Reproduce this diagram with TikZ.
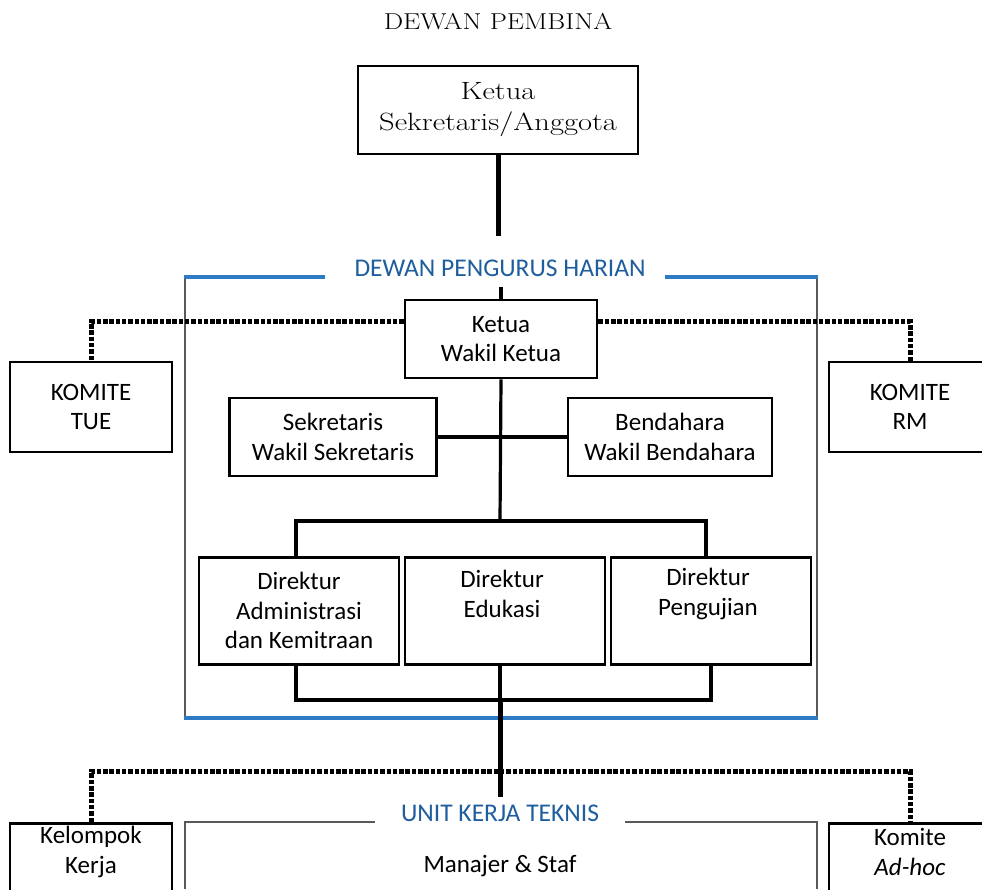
\documentclass[tikz,border=0pt]{standalone}
\usepackage{fontspec}
\newfontfamily\calib{Carlito}
\definecolor{lblblue}{HTML}{1F5E9E}
\definecolor{lineblue}{HTML}{2E7BC4}
\begin{document}
\begin{tikzpicture}[x=1pt,y=-1pt,
  box/.style={draw=black,line width=2.8pt,align=center,inner sep=0pt,font=\calib\fontsize{25}{29.5}\selectfont},
  txt/.style={align=center,inner sep=0pt,font=\calib\fontsize{25}{29.5}\selectfont},
  serifbox/.style={draw=black,line width=2.8pt,align=center,inner sep=0pt,font=\fontsize{25}{31}\selectfont},
  conn/.style={line width=3.2pt},
  thickconn/.style={line width=5pt},
  dots/.style={line width=5pt,dash pattern=on 4.5pt off 1.8pt},
  frame/.style={draw=gray!70!black,line width=2.6pt},
  blueline/.style={draw=lineblue,line width=3.2pt},
  grp/.style={font=\calib\fontsize{25.5}{28}\selectfont,text=lblblue,inner sep=2pt}
]
\clip (0,0) rectangle (982,889);
\fill[white] (0,0) rectangle (982,889);

% title and top board
\node[font=\fontsize{23}{26}\selectfont] (title) at (498,22) {\scalebox{1.19}[1]{DEWAN PEMBINA}};
\node[serifbox,minimum width=280pt,minimum height=88pt] (top) at (498,110) {\scalebox{1.22}[1]{Ketua}\\\scalebox{1.22}[1]{Sekretaris/Anggota}};

% DPH frame
\node[grp] (dph) at (500,268) {DEWAN PENGURUS HARIAN};
\draw[frame] (185,277) -- (185,718);
\draw[frame] (817,277) -- (817,718);
\draw[blueline] (184,277) -- (325,277);
\draw[blueline] (665,277) -- (818,277);
\draw[blueline] (184,718) -- (818,718);

\node[box,minimum width=192pt,minimum height=78pt] (ketua) at (501,339) {Ketua\\Wakil Ketua};
\node[box,minimum width=162pt,minimum height=90pt] (tue) at (91,407) {KOMITE\\TUE};
\node[box,minimum width=162pt,minimum height=90pt] (rm) at (910,407) {KOMITE\\RM};

\node[box,minimum width=207pt,minimum height=78pt] (sek) at (333,437) {Sekretaris\\Wakil Sekretaris};
\node[box,minimum width=204pt,minimum height=78pt] (bend) at (670,437) {Bendahara\\Wakil Bendahara};

\node[box,minimum width=200pt,minimum height=107pt,anchor=north] (d1) at (299,556) {Direktur\\Administrasi\\dan Kemitraan};
\node[box,minimum width=200pt,minimum height=107pt,anchor=north] (d2) at (505,556) {};
\node[box,minimum width=200pt,minimum height=107pt,anchor=north] (d3) at (711,556) {};
\node[txt] (d2t) at (502,594) {Direktur\\Edukasi};
\node[txt] (d3t) at (708,594) {Direktur\\Pengujian};

\coordinate (j1) at (500,521);
\coordinate (j2) at (500,700);
\coordinate (j3) at (500,771);
\coordinate (jend) at (500,797);

% connectors
\draw[thickconn,shorten >=21pt] (top.south) -- (dph.north -| top.south);
\draw[conn,shorten <=8pt] (dph.south -| ketua.north) -- (ketua.north);
\draw[dots] ([yshift=-23pt]ketua.north west) -| (tue.north);
\draw[dots] ([yshift=-23pt]ketua.north east) -| (rm.north);
\draw[conn] (ketua.south) -- (j1);
\draw[conn] (sek.east) -- (bend.west);
\draw[conn] ([xshift=-3pt]d1.north) |- (j1) -| ([xshift=-5pt]d3.north);
\draw[conn] ([xshift=-3pt]d1.south) |- (j2) -| (d3.south);
\draw[conn] (d2.south -| j2) -- (j2);
\draw[thickconn] (j2) -- (jend);

% lower row
\node[box,minimum width=162pt,minimum height=120pt,anchor=north] (kk) at (91,822) {};
\node[txt] (kkt) at (91,852) {Kelompok\\Kerja};
\node[box,minimum width=162pt,minimum height=120pt,anchor=north] (ah) at (910,822) {};
\node[txt] (aht) at (910,852) {Komite\\\textit{Ad-hoc}};
\draw[dots] (kk.north) |- (j3) -| (ah.north);

\node[grp] (ukt) at (500,813) {UNIT KERJA TEKNIS};
\draw[frame] (185,822) -- (375,822);
\draw[frame] (625,822) -- (817,822);
\draw[frame] (185,821) -- (185,889);
\draw[frame] (817,821) -- (817,889);
\node[txt] (mgr) at (500,866) {Manajer \& Staf};
\end{tikzpicture}
\end{document}
